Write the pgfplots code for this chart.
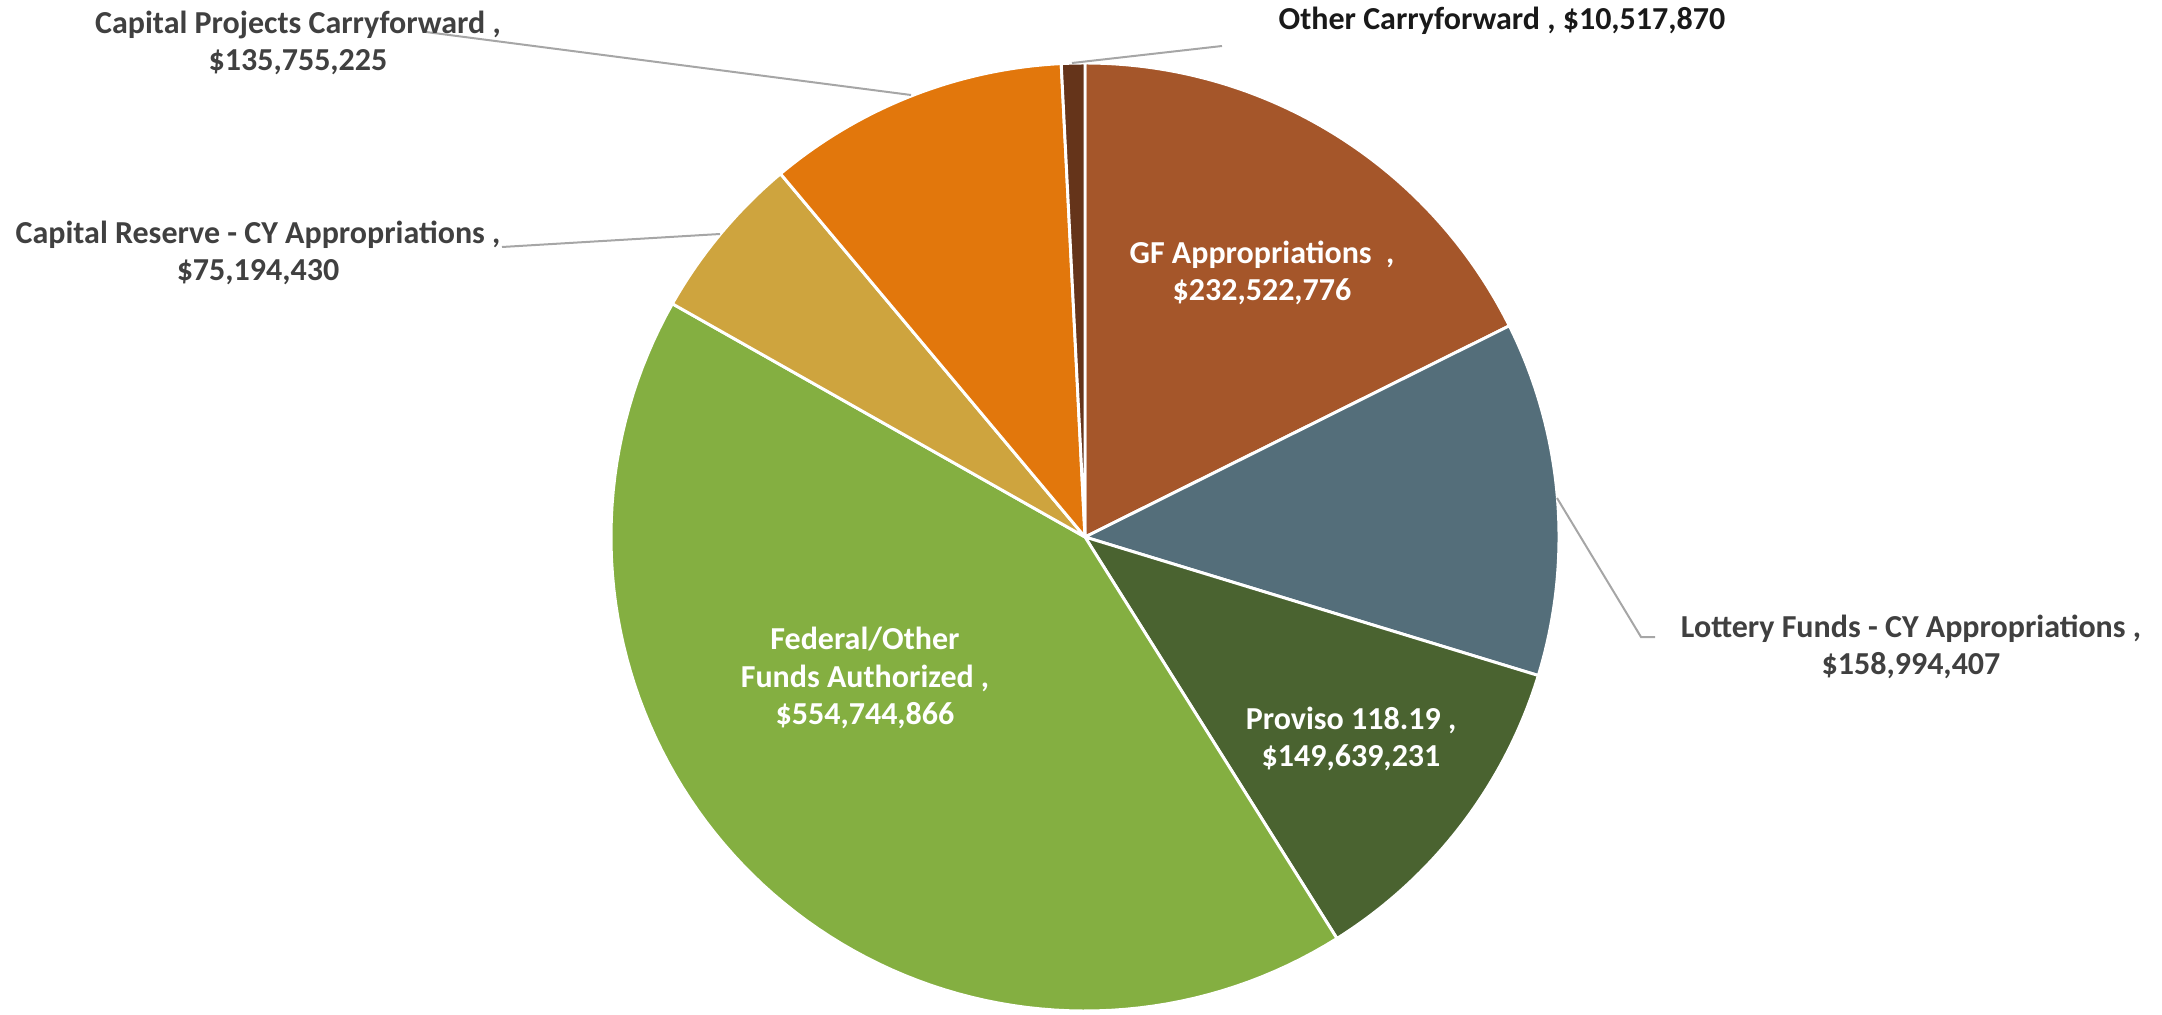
\documentclass[border=0pt]{standalone}
\usepackage{pgfplots}
\pgfplotsset{compat=1.18}
\usepackage{fontspec}
\setmainfont{Carlito}
\definecolor{cGF}{HTML}{A5562A}
\definecolor{cLot}{HTML}{546E7A}
\definecolor{cPro}{HTML}{4A6330}
\definecolor{cFed}{HTML}{84AF41}
\definecolor{cCR}{HTML}{CEA43E}
\definecolor{cCP}{HTML}{E2770C}
\definecolor{cOth}{HTML}{65341A}
\definecolor{ctxt}{HTML}{404040}
\definecolor{cldr}{HTML}{A6A6A6}
% values in millions of dollars
\def\vGF{232.522776}
\def\vLot{158.994407}
\def\vPro{149.639231}
\def\vFed{554.744866}
\def\vCR{75.194430}
\def\vCP{135.755225}
\def\vOth{10.517870}
\pgfmathsetmacro\tot{\vGF+\vLot+\vPro+\vFed+\vCR+\vCP+\vOth}
\pgfmathsetmacro\aO{90}
\pgfmathsetmacro\aA{\aO-\vGF/\tot*360}
\pgfmathsetmacro\aB{\aA-\vLot/\tot*360}
\pgfmathsetmacro\aC{\aB-\vPro/\tot*360}
\pgfmathsetmacro\aD{\aC-\vFed/\tot*360}
\pgfmathsetmacro\aE{\aD-\vCR/\tot*360}
\pgfmathsetmacro\aF{\aE-\vCP/\tot*360}
\pgfmathsetmacro\aG{\aF-\vOth/\tot*360}
\begin{document}
\begin{tikzpicture}
\begin{axis}[width=810.75pt,height=380.25pt,scale only axis,
  xmin=0,xmax=2162,ymin=-1014,ymax=0,hide axis,clip=false]
\pgfplotsset{sector/.style={draw=white,line width=1.1pt,line join=round,samples=90,variable=\t}}
\addplot[sector,fill=cGF,domain=\aA:\aO] ({1085+474*cos(\t)},{-537+474*sin(\t)}) -- (1085,-537) -- cycle;
\addplot[sector,fill=cLot,domain=\aB:\aA] ({1085+474*cos(\t)},{-537+474*sin(\t)}) -- (1085,-537) -- cycle;
\addplot[sector,fill=cPro,domain=\aC:\aB] ({1085+474*cos(\t)},{-537+474*sin(\t)}) -- (1085,-537) -- cycle;
\addplot[sector,fill=cFed,domain=\aD:\aC] ({1085+474*cos(\t)},{-537+474*sin(\t)}) -- (1085,-537) -- cycle;
\addplot[sector,fill=cCR,domain=\aE:\aD] ({1085+474*cos(\t)},{-537+474*sin(\t)}) -- (1085,-537) -- cycle;
\addplot[sector,fill=cCP,domain=\aF:\aE] ({1085+474*cos(\t)},{-537+474*sin(\t)}) -- (1085,-537) -- cycle;
\addplot[sector,fill=cOth,domain=\aG:\aF,samples=10] ({1085+474*cos(\t)},{-537+474*sin(\t)}) -- (1085,-537) -- cycle;
% leader lines
\addplot[cldr,line width=0.75pt] coordinates {(426,-32) (911,-95)};
\addplot[cldr,line width=0.75pt] coordinates {(1072,-63) (1222,-46)};
\addplot[cldr,line width=0.75pt] coordinates {(502,-247) (720,-234)};
\addplot[cldr,line width=0.75pt] coordinates {(1557,-498) (1641,-637) (1655,-637)};
% labels
\begin{scope}[every node/.style={font=\fontsize{12}{14}\selectfont\bfseries,align=center}]
\node[text=ctxt] at (298,-43) {Capital Projects Carryforward ,\\\$135,755,225};
\node[text=black!90] at (1502,-21) {Other Carryforward , \$10,517,870};
\node[text=ctxt] at (258,-253) {Capital Reserve - CY Appropriations ,\\\$75,194,430};
\node[text=ctxt] at (1911,-647) {Lottery Funds - CY Appropriations ,\\\$158,994,407};
\node[text=white] at (1262,-273) {GF Appropriations~~,\\\$232,522,776};
\node[text=white] at (865,-678) {Federal/Other\\Funds Authorized ,\\\$554,744,866};
\node[text=white] at (1351,-739) {Proviso 118.19 ,\\\$149,639,231};
\end{scope}
\end{axis}
\pgfresetboundingbox
\path[use as bounding box] (current axis.south west) rectangle (current axis.north east);
\end{tikzpicture}
\end{document}
